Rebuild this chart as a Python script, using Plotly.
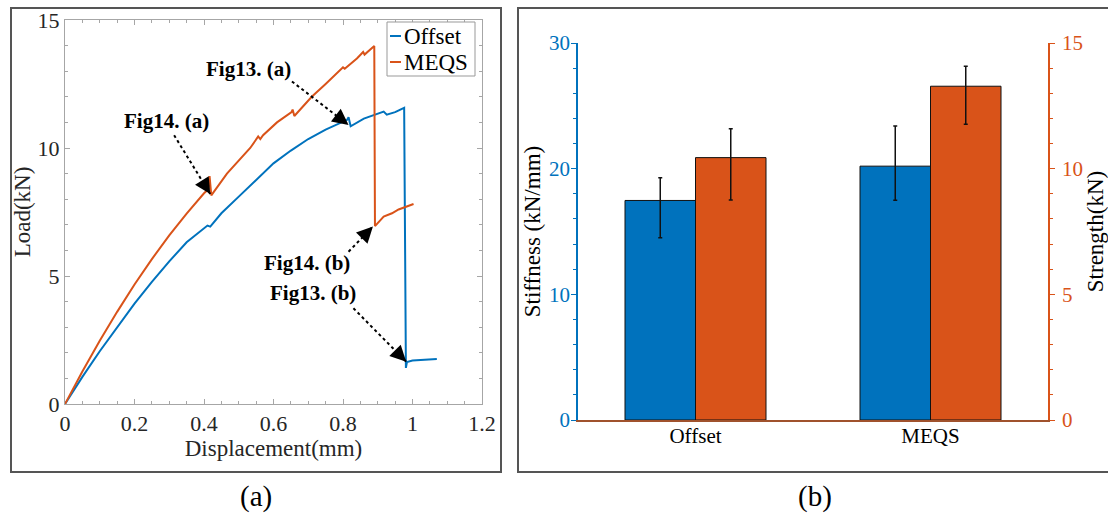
import plotly.graph_objects as go

W, H = 1108, 524

# ---------------- data ----------------
offset_disp = [0, 0.05, 0.1, 0.15, 0.2, 0.25, 0.3, 0.35, 0.405, 0.41, 0.418,
               0.45, 0.5, 0.55, 0.6, 0.65, 0.7, 0.75, 0.8, 0.812, 0.816, 0.822,
               0.86, 0.9, 0.917, 0.926, 0.95, 0.976, 0.981, 0.984, 1.0, 1.07]
offset_load = [0, 1.06, 2.06, 3.0, 3.92, 4.77, 5.57, 6.32, 6.9, 6.97, 6.93,
               7.45, 8.1, 8.75, 9.4, 9.9, 10.35, 10.72, 11.02, 11.1, 11.2, 10.85,
               11.15, 11.35, 11.42, 11.3, 11.4, 11.57, 1.41, 1.64, 1.7, 1.76]

meqs_disp = [0, 0.05, 0.1, 0.15, 0.2, 0.25, 0.3, 0.35, 0.4, 0.412, 0.416,
             0.421, 0.466, 0.5, 0.533, 0.556, 0.562, 0.57, 0.61, 0.652, 0.655,
             0.66, 0.71, 0.75, 0.79, 0.8, 0.805, 0.84, 0.858, 0.862, 0.89,
             0.892, 0.917, 0.941, 0.96, 1.003]
meqs_load = [0, 1.27, 2.47, 3.6, 4.67, 5.66, 6.59, 7.44, 8.23, 8.38, 8.9,
             8.15, 9.0, 9.5, 10.0, 10.45, 10.35, 10.5, 11.0, 11.4, 11.5,
             11.25, 12.0, 12.5, 13.0, 13.15, 13.1, 13.5, 13.75, 13.65, 13.98,
             6.95, 7.32, 7.45, 7.6, 7.81]

categories = ["Offset", "MEQS"]
stiffness = [17.47, 20.2]
stiffness_err_plus = [1.8, 3.2]
stiffness_err_minus = [2.97, 2.71]
strength = [10.44, 13.28]
strength_err_plus = [1.15, 0.79]
strength_err_minus = [1.69, 1.51]

x_ticks_a = [0, 0.2, 0.4, 0.6, 0.8, 1, 1.2]
y_ticks_a = [0, 5, 10, 15]

series_names = ["Offset", "MEQS"]

# annotation texts: (label, text pos, arrow start, arrow end)
arrows = [
    ("Fig13. (a)", (0.528, 13.1), (0.653, 12.6), (0.816, 10.9)),
    ("Fig14. (a)", (0.293, 11.07), (0.314, 10.5), (0.418, 8.2)),
    ("Fig14. (b)", (0.696, 5.49), (0.816, 5.95), (0.886, 6.93)),
    ("Fig13. (b)", (0.715, 4.32), (0.83, 3.74), (0.982, 1.65)),
]

# ---------------- style ----------------
BLUE = "#0072BD"
ORANGE = "#D95319"
SERIF = "Liberation Serif, Times New Roman, serif"
TXT = "#262626"
AX = "#a6a6a6"

fig = go.Figure()

fig.add_trace(go.Scatter(x=offset_disp, y=offset_load, mode="lines", name=series_names[0],
                         line=dict(color=BLUE, width=2), xaxis="x", yaxis="y", showlegend=False))
fig.add_trace(go.Scatter(x=meqs_disp, y=meqs_load, mode="lines", name=series_names[1],
                         line=dict(color=ORANGE, width=2), xaxis="x", yaxis="y", showlegend=False))

fig.add_trace(go.Bar(x=categories, y=stiffness, xaxis="x2", yaxis="y2",
                     width=0.3, offset=-0.3, showlegend=False,
                     marker=dict(color=BLUE, line=dict(color="#111", width=1)),
                     error_y=dict(type="data", symmetric=False, array=stiffness_err_plus,
                                  arrayminus=stiffness_err_minus, color="#111",
                                  thickness=1.5, width=2)))
fig.add_trace(go.Bar(x=categories, y=strength, xaxis="x2", yaxis="y3",
                     width=0.3, offset=0, showlegend=False,
                     marker=dict(color=ORANGE, line=dict(color="#111", width=1)),
                     error_y=dict(type="data", symmetric=False, array=strength_err_plus,
                                  arrayminus=strength_err_minus, color="#111",
                                  thickness=1.5, width=2)))


def px_x(p):
    return p / W


def px_y(p):
    return 1 - p / H


shapes = []
annotations = []
for label, tpos, s, e in arrows:
    annotations.append(dict(x=tpos[0], y=tpos[1], xref="x", yref="y", text="<b>%s</b>" % label,
                            showarrow=False, font=dict(family=SERIF, size=21, color="black")))
    shapes.append(dict(type="line", xref="x", yref="y", x0=s[0], y0=s[1], x1=e[0], y1=e[1],
                       line=dict(color="black", width=2, dash="dot")))
    bx = e[0] - 0.2 * (e[0] - s[0])
    by = e[1] - 0.2 * (e[1] - s[1])
    annotations.append(dict(x=e[0], y=e[1], xref="x", yref="y", ax=bx, ay=by,
                            axref="x", ayref="y", text="", showarrow=True,
                            arrowhead=2, arrowsize=1.6, arrowwidth=2, arrowcolor="black",
                            standoff=0))

# manual legend (MATLAB style: short line swatches)
shapes.append(dict(type="rect", xref="paper", yref="paper",
                   x0=px_x(387), x1=px_x(475), y0=px_y(76), y1=px_y(22),
                   fillcolor="white", line=dict(color="#999", width=1), layer="above"))
for i, (nm, col) in enumerate(zip(series_names, [BLUE, ORANGE])):
    yy = 36 + i * 26
    shapes.append(dict(type="line", xref="paper", yref="paper",
                       x0=px_x(390), x1=px_x(401), y0=px_y(yy), y1=px_y(yy),
                       line=dict(color=col, width=2)))
    annotations.append(dict(x=px_x(402), y=px_y(yy), xref="paper", yref="paper",
                            xanchor="left", yanchor="middle", text=nm, showarrow=False,
                            font=dict(family=SERIF, size=23, color="black")))

# panel boxes
shapes.append(dict(type="rect", xref="paper", yref="paper",
                   x0=px_x(11), x1=px_x(501), y0=px_y(472), y1=px_y(8),
                   line=dict(color="#555", width=2)))
shapes.append(dict(type="rect", xref="paper", yref="paper",
                   x0=px_x(518), x1=px_x(1112), y0=px_y(472), y1=px_y(8),
                   line=dict(color="#555", width=2)))

annotations.append(dict(x=px_x(256), y=px_y(496), xref="paper", yref="paper", text="(a)",
                        xanchor="center", yanchor="middle",
                        showarrow=False, font=dict(family=SERIF, size=29, color="black")))
annotations.append(dict(x=px_x(815), y=px_y(496), xref="paper", yref="paper", text="(b)",
                        xanchor="center", yanchor="middle",
                        showarrow=False, font=dict(family=SERIF, size=29, color="black")))

tickfont = dict(family=SERIF, size=22, color=TXT)
titlefont = dict(family=SERIF, size=23, color=TXT)

fig.update_layout(
    width=W, height=H,
    margin=dict(l=0, r=0, t=0, b=0),
    paper_bgcolor="white", plot_bgcolor="white",
    showlegend=False,
    xaxis=dict(domain=[px_x(65), px_x(482)], anchor="y", range=[0, 1.2], automargin=False,
               tickvals=x_ticks_a, ticks="inside", ticklen=5, tickcolor=AX,
               showline=True, linecolor=AX, linewidth=1, mirror="ticks",
               minor=dict(ticks="inside", dtick=0.05, ticklen=3, tickcolor=AX),
               showgrid=False, zeroline=False, tickfont=tickfont,
               title=dict(text="Displacement(mm)", font=titlefont, standoff=0)),
    yaxis=dict(domain=[px_y(404), px_y(20)], anchor="x", range=[0, 15], automargin=False,
               tickvals=y_ticks_a, ticks="inside", ticklen=5, tickcolor=AX,
               showline=True, linecolor=AX, linewidth=1, mirror="ticks",
               minor=dict(ticks="inside", dtick=1, ticklen=3, tickcolor=AX),
               showgrid=False, zeroline=False, tickfont=tickfont,
               title=dict(text="Load(kN)", font=titlefont, standoff=0)),
    xaxis2=dict(domain=[px_x(578), px_x(1048)], anchor="y2", type="category", automargin=False,
                range=[-0.5, 1.5], showline=True, linecolor="#a0522d", linewidth=1.5,
                ticks="", showgrid=False, zeroline=False, ticklabelstandoff=-4,
                tickfont=dict(family=SERIF, size=21, color="black")),
    yaxis2=dict(domain=[px_y(420), px_y(43)], anchor="x2", range=[0, 30], automargin=False,
                tickvals=[0, 10, 20, 30], ticks="outside", ticklen=5, tickcolor=BLUE,
                showline=True, linecolor=BLUE, linewidth=1.5, ticklabelstandoff=-3,
                minor=dict(ticks="outside", dtick=2, ticklen=3, tickcolor=BLUE),
                showgrid=False, zeroline=False,
                tickfont=dict(family=SERIF, size=21, color=BLUE),
                title=dict(text="Stiffness (kN/mm)", font=dict(family=SERIF, size=23, color="black"),
                           standoff=2)),
    yaxis3=dict(overlaying="y2", side="right", anchor="x2", range=[0, 15], automargin=False,
                tickvals=[0, 5, 10, 15], ticks="outside", ticklen=5, tickcolor=ORANGE,
                showline=True, linecolor=ORANGE, linewidth=1.5, ticklabelstandoff=3,
                minor=dict(ticks="outside", dtick=1, ticklen=3, tickcolor=ORANGE),
                showgrid=False, zeroline=False,
                tickfont=dict(family=SERIF, size=21, color=ORANGE),
                title=dict(text="Strength(kN)", font=dict(family=SERIF, size=23, color="black"),
                           standoff=2)),
    shapes=shapes,
    annotations=annotations,
)

fig.write_html("out.html")
